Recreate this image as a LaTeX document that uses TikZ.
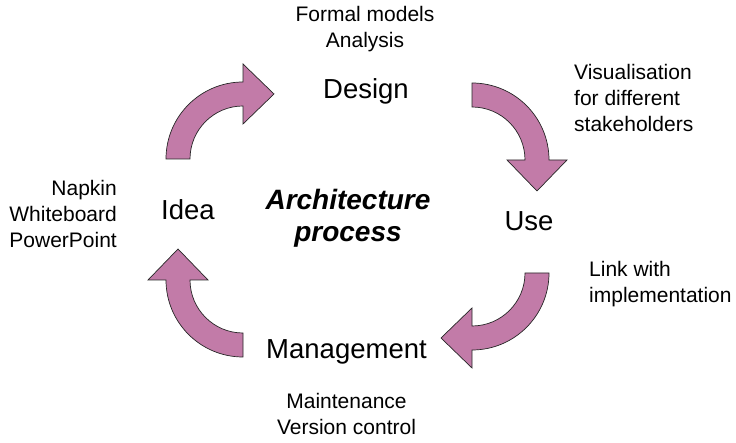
\documentclass[tikz,border=0pt]{standalone}
\usepackage{fontspec}
\setmainfont{Liberation Sans}
\definecolor{arrowfill}{RGB}{194,123,168}
\tikzset{
  bigtxt/.style={font=\fontsize{27.5}{31}\selectfont, inner sep=0pt},
  smalltxt/.style={font=\fontsize{21}{26}\selectfont, inner sep=0pt},
  centertxt/.style={font=\fontsize{28}{32}\selectfont\bfseries\itshape, inner sep=0pt, align=center},
  cyc/.pic={
    \filldraw[fill=arrowfill, draw=black!85, line width=0.7pt, line join=miter]
      (-77,0) arc[start angle=180, end angle=90, radius=77]
      -- (0,95) -- (31,65) -- (0,35) -- (0,53)
      arc[start angle=90, end angle=180, radius=53] -- cycle;
  }
}
\begin{document}
\begin{tikzpicture}[x=1pt,y=1pt]
\useasboundingbox (0,0) rectangle (736,443);
% block arrows
\pic at (243,284) {cyc};
\pic[rotate=-90] at (472,283) {cyc};
\pic[rotate=-180] at (472,170) {cyc};
\pic[rotate=90] at (243,163) {cyc};
% main labels
\node[bigtxt, anchor=base] (design) at (366,344) {Design};
\node[bigtxt, anchor=base] (use) at (529,212) {Use};
\node[bigtxt, anchor=base] (idea) at (188,223) {Idea};
\node[bigtxt, anchor=base] (mgmt) at (346.5,84) {Management};
\node[centertxt, anchor=base] (arch) at (348,201) {Architecture\\process};
% annotations
\node[smalltxt, anchor=base, align=center] (formal) at (365,395) {Formal models\\Analysis};
\node[smalltxt, anchor=base west, align=left] (vis) at (574,311) {Visualisation\\for different\\stakeholders};
\node[smalltxt, anchor=base west, align=left] (link) at (589,140) {Link with\\implementation};
\node[smalltxt, anchor=base east, align=right] (napkin) at (117,195) {Napkin\\Whiteboard\\PowerPoint};
\node[smalltxt, anchor=base, align=center] (maint) at (346.5,8) {Maintenance\\Version control};
\end{tikzpicture}
\end{document}
